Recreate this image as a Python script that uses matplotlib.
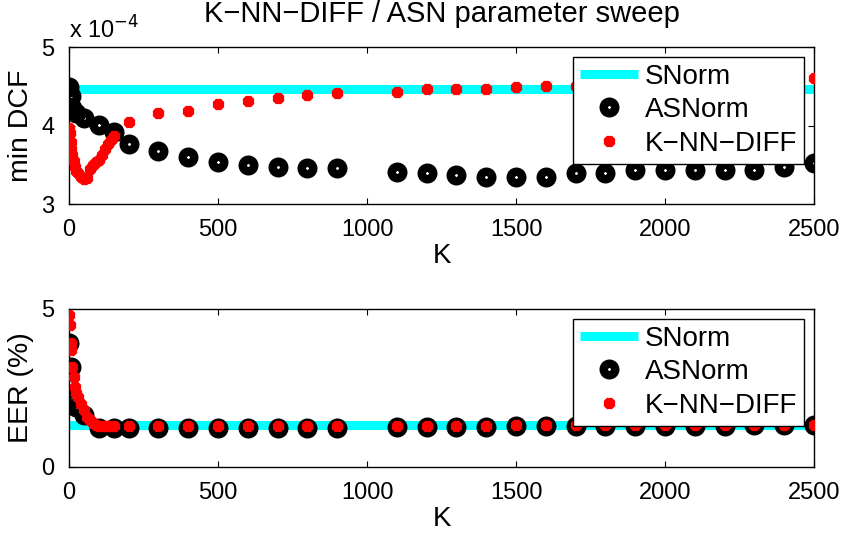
import matplotlib
matplotlib.use("Agg")
import matplotlib.pyplot as plt

plt.rcParams['font.family'] = ['Liberation Sans', 'DejaVu Sans']

# K values of the sweep
k_asn = [1, 5, 10, 25, 50, 100, 150, 200, 300, 400, 500, 600, 700, 800, 900,
         1100, 1200, 1300, 1400, 1500, 1600, 1700, 1800, 1900, 2000, 2100,
         2200, 2300, 2400, 2500]
k_knn = [1, 3, 5, 8, 10, 15, 20, 25, 30, 40, 50, 60, 70, 80, 90, 100, 110,
         120, 130, 140, 150, 200, 300, 400, 500, 600, 700, 800, 900,
         1100, 1200, 1300, 1400, 1500, 1600, 1700, 1800, 1900, 2000, 2100,
         2200, 2300, 2400, 2500]

# min DCF (x 1e-4)
snorm_dcf = 4.47
asn_dcf = [4.49, 4.38, 4.22, 4.16, 4.10, 4.01, 3.92, 3.77, 3.68, 3.60, 3.53,
           3.50, 3.47, 3.46, 3.46, 3.41, 3.39, 3.37, 3.35, 3.34, 3.34, 3.39,
           3.40, 3.44, 3.44, 3.44, 3.43, 3.43, 3.47, 3.52]
knn_dcf = [3.97, 3.90, 3.79, 3.70, 3.62, 3.55, 3.47, 3.42, 3.39, 3.34, 3.32,
           3.33, 3.45, 3.50, 3.53, 3.56, 3.62, 3.70, 3.76, 3.82, 3.87, 4.04,
           4.16, 4.19, 4.27, 4.31, 4.35, 4.39, 4.41, 4.43, 4.46, 4.46, 4.47,
           4.49, 4.50, 4.51, 4.52, 4.53, 4.54, 4.55, 4.56, 4.57, 4.58, 4.61]

# EER (%)
snorm_eer = 1.32
asn_eer = [3.92, 3.16, 2.15, 1.90, 1.65, 1.24, 1.24, 1.24, 1.24, 1.24, 1.24,
           1.24, 1.24, 1.24, 1.24, 1.26, 1.26, 1.27, 1.28, 1.30, 1.30, 1.30,
           1.30, 1.30, 1.31, 1.31, 1.31, 1.32, 1.32, 1.33]
knn_eer = [4.81, 4.49, 3.92, 3.70, 3.16, 2.85, 2.53, 2.35, 2.22, 2.00, 1.80,
           1.58, 1.48, 1.39, 1.33, 1.30, 1.30, 1.30, 1.30, 1.30, 1.30, 1.30,
           1.30, 1.30, 1.30, 1.30, 1.30, 1.30, 1.30, 1.30, 1.30, 1.30, 1.31,
           1.32, 1.32, 1.32, 1.32, 1.32, 1.32, 1.32, 1.32, 1.32, 1.33, 1.33]

fig = plt.figure(figsize=(8.47, 5.37), dpi=100)
ax1 = fig.add_axes([0.0815, 0.620, 0.8796, 0.2924])
ax2 = fig.add_axes([0.0815, 0.1304, 0.8796, 0.2942])


def draw(ax, snorm, asn, knn):
    ax.plot([0, 2500], [snorm, snorm], color='#00ffff', lw=6.5, label='SNorm',
            solid_capstyle='butt', zorder=2)
    ax.plot(k_asn, asn, ls='none', marker='o', ms=8.3, mew=6.1, mec='black',
            mfc='none', label='ASNorm', zorder=3)
    ax.plot(k_knn, knn, ls='none', marker=(8, 2, 0), ms=8, mew=3.6,
            mec='red', mfc='red', label='K\u2212NN\u2212DIFF', zorder=4)
    ax.set_xlim(0, 2500)
    ax.set_xticks([0, 500, 1000, 1500, 2000, 2500])
    ax.tick_params(direction='in', top=True, right=True, length=4, width=0.8,
                   labelsize=17, pad=10.5)
    for s in ax.spines.values():
        s.set_linewidth(1.0)
    ax.set_xlabel('K', fontsize=20, labelpad=2)
    leg = ax.legend(loc='upper right', fontsize=20, frameon=True, fancybox=False,
                    framealpha=1, edgecolor='black', borderaxespad=0.35,
                    handlelength=2.1, handletextpad=0.25, borderpad=0.25,
                    labelspacing=0.27, markerscale=1.0)
    leg.get_frame().set_linewidth(1.0)


draw(ax1, snorm_dcf, asn_dcf, knn_dcf)
ax1.set_ylim(3, 5)
ax1.set_yticks([3, 4, 5])
ax1.set_ylabel('min DCF', fontsize=20.5, labelpad=5)
ax1.set_title('K\u2212NN\u2212DIFF / ASN parameter sweep', fontsize=21, pad=18)
ax1.text(0.0, 1.02, 'x 10$^{\u22124}$', transform=ax1.transAxes, fontsize=17,
         ha='left', va='bottom')

draw(ax2, snorm_eer, asn_eer, knn_eer)
ax2.set_ylim(0, 5)
ax2.set_yticks([0, 5])
ax2.set_ylabel('EER (%)', fontsize=20.5, labelpad=5)

fig.savefig('out.png', dpi=100)
